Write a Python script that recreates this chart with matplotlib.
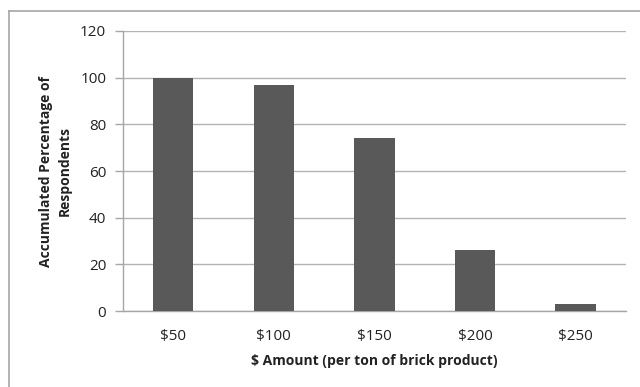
import matplotlib.pyplot as plt
import numpy as np
from matplotlib.lines import Line2D

amounts = ['$50', '$100', '$150', '$200', '$250']
pct_respondents = [100, 97, 74, 26, 3]

plt.rcParams['font.family'] = ['Open Sans', 'DejaVu Sans']

fig = plt.figure(figsize=(6.4, 3.87), dpi=100)
ax = fig.add_axes([0.192, 0.196, 0.786, 0.724])

x = np.arange(len(amounts))
ax.bar(x, pct_respondents, width=0.4, color='#595959', zorder=3)

ax.set_xlim(-0.5, len(amounts) - 0.5)
ax.set_ylim(0, 120)
ax.set_yticks(np.arange(0, 121, 20))
ax.set_xticks(x)
ax.set_xticklabels(amounts)

ax.yaxis.grid(True, color='#b3b3b3', linewidth=1.0, zorder=0)
for side in ['top', 'right']:
    ax.spines[side].set_visible(False)
for side in ['left', 'bottom']:
    ax.spines[side].set_color('#a6a6a6')
    ax.spines[side].set_linewidth(1.0)

ax.tick_params(axis='y', length=6, width=1.0, color='#a6a6a6', labelsize=11,
               labelcolor='#222222', pad=6)
ax.tick_params(axis='x', length=0, labelsize=11, labelcolor='#222222', pad=13)

ax.set_xlabel('$ Amount (per ton of brick product)', fontsize=10, fontweight='bold',
              color='#222222', labelpad=7)
ax.set_ylabel('Accumulated Percentage of\nRespondents', fontsize=10, fontweight='bold',
              color='#222222', labelpad=6, linespacing=1.4)

# chart area border (top and left edges only)
fig.add_artist(Line2D([9 / 640, 9 / 640], [0, 1 - 11 / 387], transform=fig.transFigure,
                      color='#a6a6a6', linewidth=1.2))
fig.add_artist(Line2D([9 / 640, 1], [1 - 11 / 387, 1 - 11 / 387], transform=fig.transFigure,
                      color='#a6a6a6', linewidth=1.2))

fig.savefig('out.png', dpi=100)
